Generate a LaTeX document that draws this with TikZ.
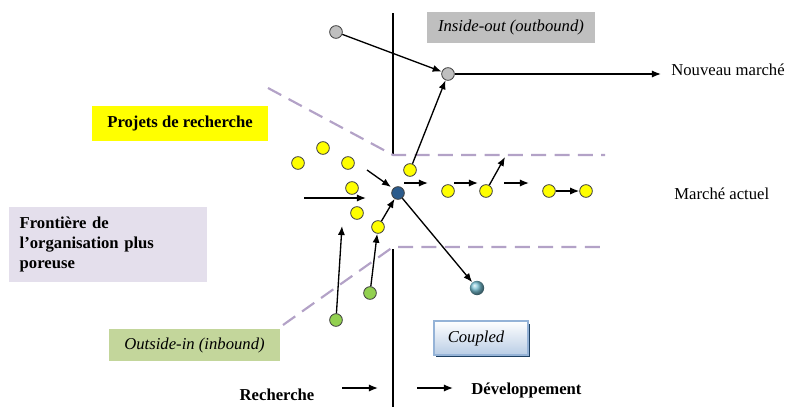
\documentclass[tikz,border=0pt]{standalone}
\usepackage{fontspec}
\setmainfont{Liberation Serif}
\usepackage{xcolor}
\usetikzlibrary{arrows.meta,positioning,shadings}

\definecolor{dotyellow}{HTML}{FFFF00}
\definecolor{dotgray}{HTML}{BFBFBF}
\definecolor{dotgreen}{HTML}{92D050}
\definecolor{dotblue}{HTML}{2B5B8C}
\definecolor{balcyan}{HTML}{4BACC6}
\definecolor{boundary}{HTML}{B3A2C7}
\definecolor{lavender}{HTML}{E4DFEC}
\definecolor{olivegreen}{HTML}{C3D69B}
\definecolor{couplededge}{HTML}{95B3D7}
\definecolor{coupledfill}{HTML}{B9CDE5}

\begin{document}
\begin{tikzpicture}[x=0.6pt,y=-0.6pt, every node/.style={font=\normalsize},
  dot/.style={circle,draw=black!75,line width=0.5pt,inner sep=0pt,minimum size=7.6pt},
  ydot/.style={dot,fill=dotyellow},
  gydot/.style={dot,fill=dotgray},
  gndot/.style={dot,fill=dotgreen},
  label/.style={inner sep=0pt,anchor=west},
  tag/.style={inner sep=3pt,align=center},
  arr/.style={-{Latex[length=1.9mm,width=1.5mm]},line width=0.8pt},
  frontier/.style={boundary,line width=1.3pt,dash pattern=on 9pt off 5pt},
  wall/.style={line width=1.1pt}]
\useasboundingbox (0,0) rectangle (787,407);

% frontiere poreuse
\coordinate (wtop) at (393,13);
\coordinate (wup) at (393,155);
\coordinate (wlow) at (393,249);
\coordinate (wbot) at (393,407);
\draw[wall] (wtop)--(wup); \draw[wall] (wlow)--(wbot);
\coordinate (fa) at (268,88); \coordinate (fb) at (605,155);
\coordinate (fc) at (283,325); \coordinate (fd) at (605,247);
\draw[frontier] (fa)--(wup)--(fb);
\draw[frontier] (fc)--(393,247)--(fd);

% etiquettes
\node[tag,fill=dotgray,minimum width=100.8pt,minimum height=18.6pt,font=\itshape] (io) at (511,27.5) {Inside-out (outbound)};
\node[tag,fill=dotyellow,minimum width=105.6pt,minimum height=21pt,font=\bfseries] (pr) at (180,123.5) {Projets de recherche};
\node[tag,fill=lavender,minimum width=118.8pt,minimum height=45pt,font=\bfseries,align=left,text width=106pt] (fr) at (108,244.5) {Frontière de\\l’organisation plus\\poreuse};
\node[tag,fill=olivegreen,minimum width=102.6pt,minimum height=19.2pt,font=\itshape] (oi) at (194.5,345) {Outside-in (inbound)};
\fill[dotblue!70!black] (436,324) rectangle (530,357);
\node[tag,draw=couplededge,line width=0.8pt,top color=white,bottom color=coupledfill,minimum width=56.4pt,minimum height=20.4pt,font=\itshape] (cp) at (481,338) {Coupled\hspace{6pt}};
\node[label] (nm) at (671,70) {Nouveau marché};
\node[label] (ma) at (674,194) {Marché actuel};
\node[inner sep=0pt,font=\bfseries] (rc) at (277,395) {Recherche};
\node[label,font=\bfseries] (dv) at (471,390) {Développement};

% projets
\node[gydot] (gr1) at (336,32) {};
\node[gydot] (gr2) at (448,74) {};
\node[ydot] (y1) at (298,163) {};
\node[ydot] (y2) at (323,148) {};
\node[ydot] (y3) at (348,163) {};
\node[ydot] (y4) at (352,188) {};
\node[ydot] (y5) at (357,213) {};
\node[ydot] (y6) at (378,227) {};
\node[ydot] (y7) at (410,170) {};
\node[ydot] (y8) at (448,191) {};
\node[ydot] (y9) at (486,191) {};
\node[ydot] (y10) at (549,191) {};
\node[ydot] (y11) at (586,191) {};
\node[dot,fill=dotblue] (b) at (398,193) {};
\node[circle,inner sep=0pt,minimum size=8.6pt,ball color=balcyan!75!white] (cy) at (477,288) {};
\node[gndot] (g1) at (336,320) {};
\node[gndot] (g2) at (370,293) {};

% fleches libres
\coordinate (a1s) at (367,170); \coordinate (a1e) at (391,187);
\coordinate (a2s) at (304,198); \coordinate (a2e) at (366,198);
\coordinate (a3e) at (342,226);
\coordinate (a4s) at (404,183); \coordinate (a4e) at (428,183);
\coordinate (a5s) at (454,183); \coordinate (a5e) at (478,183);
\coordinate (a6e) at (505,157);
\coordinate (a7s) at (504,183); \coordinate (a7e) at (529,183);
\coordinate (nme) at (661,74);
\coordinate (r1s) at (342,388); \coordinate (r1e) at (378,388);
\coordinate (r2s) at (417,388); \coordinate (r2e) at (453,388);

\draw[arr] (gr1)--(gr2); \draw[arr] (gr2)--(nme); \draw[arr] (y7)--(gr2);
\draw[arr] (a1s)--(a1e); \draw[arr] (a2s)--(a2e);
\draw[arr] (y6)--(b); \draw[arr] (g2)--(y6); \draw[arr] (g1)--(a3e);
\draw[arr] (a4s)--(a4e); \draw[arr] (a5s)--(a5e);
\draw[arr] (y9)--(a6e); \draw[arr] (a7s)--(a7e);
\draw[arr] (y10)--(y11); \draw[arr] (b)--(cy);
\draw[arr] (r1s)--(r1e); \draw[arr] (r2s)--(r2e);
\end{tikzpicture}
\end{document}
